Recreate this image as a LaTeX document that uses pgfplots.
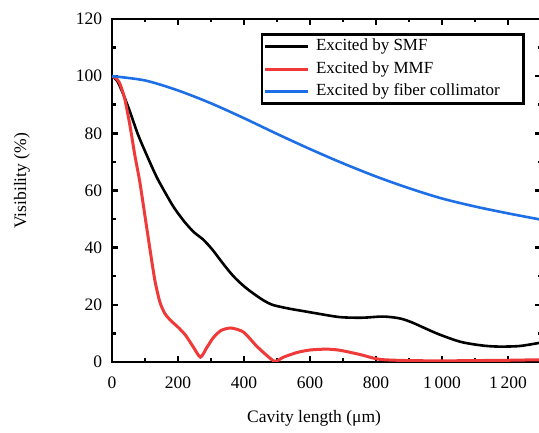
\documentclass[border=0pt]{standalone}
\usepackage{fontspec}
\setmainfont{Liberation Serif}
\usepackage{pgfplots}
\pgfplotsset{compat=1.18}
\definecolor{cred}{HTML}{F03A3A}
\definecolor{cblue}{HTML}{1E6FE6}
\begin{document}
\fontsize{17}{20}\selectfont
\begin{tikzpicture}
\begin{axis}[
  at={(112pt,71pt)}, anchor=south west,
  scale only axis, width=429pt, height=343pt,
  xmin=0, xmax=1300, ymin=0, ymax=120,
  xtick={0,200,...,1200}, minor x tick num=1,
  ytick={0,20,...,120}, minor y tick num=1,
  tick align=inside, major tick length=6pt, minor tick length=3.5pt,
  every tick/.style={black, line width=2.5pt},
  axis line style={line width=2.5pt},
  /pgf/number format/assume math mode=true,
  /pgf/number format/1000 sep={\,},
  tick label style={font=\fontsize{17.5}{20}\selectfont},
  yticklabel style={xshift=-4pt},
  xticklabel style={yshift=-9pt},
  xlabel={Cavity length (μm)},
  ylabel={Visibility (\%)},
  xlabel style={at={(axis description cs:0.471,-0.163)}, anchor=center, font=\fontsize{17.5}{20}\selectfont},
  ylabel style={at={(axis description cs:-0.21,0.528)}, anchor=center, font=\fontsize{17.5}{20}\selectfont},
  legend cell align=left,
  legend image code/.code={\draw[#1] (0pt,0pt) -- (43pt,0pt);},
  legend style={at={(axis description cs:0.347,0.959)}, anchor=north west,
    draw=black, line width=2.5pt, inner xsep=1pt, inner ysep=3pt,
    row sep=4.7pt, column sep=6pt,
    nodes={inner sep=1pt, text height=12pt, text depth=4pt, font=\fontsize{17}{20}\selectfont}},
]
\addplot[black, line width=2.6pt, smooth, tension=0.5] coordinates {
(0,100) (15,98.5) (33,94) (54,87.7) (79,79.5) (109,71.4) (135,64.8) (160,59.5)
(188,54) (220,49) (250,45.2) (275,43) (305,39.2) (336,34.5) (368,30) (400,26.5)
(428,24) (460,21.5) (489,19.9) (540,18.6) (580,17.8) (620,17) (691,15.7)
(760,15.5) (820,15.9) (870,15.3) (910,13.8) (984,10.0) (1055,7.1) (1120,5.8)
(1170,5.4) (1236,5.6) (1300,6.8)};
\addlegendentry{Excited by SMF}
\addplot[cred, line width=3pt, smooth, tension=0.4] coordinates {
(0,100) (12,99.3) (23,97.6) (38,92.4) (54,83) (69,72.5) (84,63.2) (100,51)
(115,39.5) (130,28.5) (145,21) (160,17) (178,14.5) (200,12.2) (222,9.5)
(245,5.5) (268,1.7) (287,5) (307,8.5) (330,11) (360,11.9) (398,10.5) (438,5.6)
(470,2.2) (494,0.2) (520,1.7) (560,3.3) (600,4.2) (650,4.5) (691,4.1)
(752,2.6) (812,0.9) (900,0.5) (1000,0.4) (1100,0.5) (1200,0.6) (1300,0.8)};
\addlegendentry{Excited by MMF}
\addplot[cblue, line width=2.6pt, smooth, tension=0.5] coordinates {
(0,100) (100,98.5) (200,95.0) (300,90.5) (400,85.3) (500,79.8) (600,74.5)
(700,69.5) (800,64.9) (900,60.8) (1000,57.2) (1100,54.4) (1200,52.0) (1300,49.8)};
\addlegendentry{Excited by fiber collimator\hspace*{22pt}}
\end{axis}
\pgfresetboundingbox
\useasboundingbox (0pt,0pt) rectangle (539pt,433pt);
\end{tikzpicture}
\end{document}
